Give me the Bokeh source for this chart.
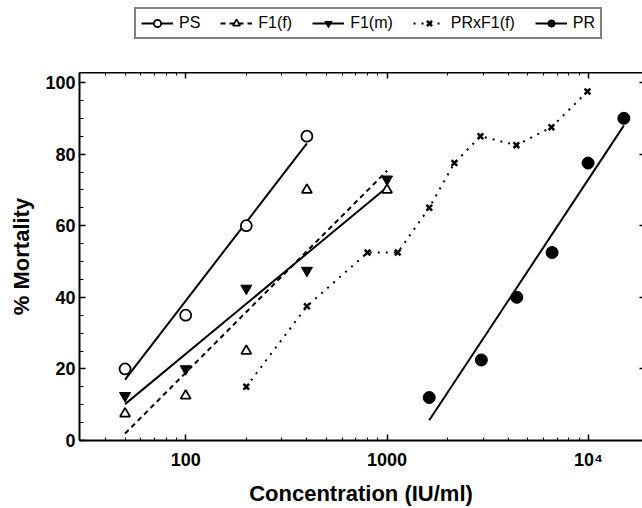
import numpy as np
from bokeh.plotting import figure
from bokeh.layouts import column
from bokeh.models import (Range1d, LinearAxis, LogAxis, FixedTicker, Legend,
                          LegendItem, CustomJSTickFormatter)
from bokeh.embed import file_html
from bokeh.resources import INLINE

# ---- data ----
ps_x = [50, 100, 200, 400]
ps_y = [20, 35, 60, 85]
f1f_x = [50, 100, 200, 400, 1000]
f1f_y = [7.5, 12.5, 25, 70, 70]
f1m_x = [50, 100, 200, 400, 1000]
f1m_y = [12.5, 20, 42.5, 47.5, 73]
prf_x = [200, 400, 800, 1130, 1620, 2160, 2910, 4390, 6550, 9890]
prf_y = [15, 37.5, 52.5, 52.5, 65, 77.5, 85, 82.5, 87.5, 97.5]
pr_x = [1620, 2940, 4410, 6600, 9960, 14990]
pr_y = [12, 22.5, 40, 52.5, 77.5, 90]

series_names = ["PS", "F1(f)", "F1(m)", "PRxF1(f)", "PR"]

x_ticks = [100, 1000, 10000]
x_tick_labels = ["100", "1000", "10\u2074"]
x_minor = [40, 50, 60, 70, 80, 90, 200, 300, 400, 500, 600, 700, 800, 900,
           2000, 3000, 4000, 5000, 6000, 7000, 8000, 9000]
y_ticks = [0, 20, 40, 60, 80, 100]
y_minor = [5, 10, 15, 25, 30, 35, 45, 50, 55, 65, 70, 75, 85, 90, 95]


def fit(xs, ys):
    """Least-squares line of y on log10(x), drawn over the data's x span."""
    b, a = np.polyfit(np.log10(xs), ys, 1)
    ends = np.array([min(xs), max(xs)], dtype=float)
    return ends, a + b * np.log10(ends)


FONT = "Liberation Sans"

# styles per series: (line kwargs, marker kwargs)
styles = [
    (dict(line_dash="solid"),
     dict(marker="circle", size=11, fill_color="white", line_width=1.8)),
    (dict(line_dash="5 4"),
     dict(marker="triangle", size=10, fill_color="white", line_width=1.8)),
    (dict(line_dash="solid"),
     dict(marker="inverted_triangle", size=11, fill_color="black", line_width=1)),
    (dict(line_dash="2 6"),
     dict(marker="x", size=8, line_width=2.5)),
    (dict(line_dash="solid"),
     dict(marker="circle", size=12, fill_color="black", line_width=1)),
]
all_xy = [(ps_x, ps_y), (f1f_x, f1f_y), (f1m_x, f1m_y), (prf_x, prf_y),
          (pr_x, pr_y)]

# ---------------- main plot ----------------
p = figure(width=642, height=436, x_axis_type="log",
           x_range=Range1d(29.7, 18560), y_range=Range1d(0, 102.8),
           output_backend="svg", toolbar_location=None,
           min_border_left=79, min_border_top=0, min_border_bottom=67,
           min_border_right=0)
p.grid.visible = False
p.outline_line_color = None

xa = p.xaxis[0]
xa.ticker = FixedTicker(ticks=x_ticks, minor_ticks=x_minor)
xa.formatter = CustomJSTickFormatter(
    args=dict(tv=x_ticks, tl=x_tick_labels),
    code="const i = tv.findIndex(t => Math.abs(t - tick) < 1e-6 * t);"
         " return i >= 0 ? tl[i] : '';")
ya = p.yaxis[0]
ya.ticker = FixedTicker(ticks=y_ticks, minor_ticks=y_minor)

for ax in (xa, ya):
    ax.axis_line_width = 2
    ax.major_tick_out = 0
    ax.major_tick_in = 6
    ax.minor_tick_out = 0
    ax.major_tick_line_width = 1.5
    ax.minor_tick_line_width = 1
    ax.major_label_text_font = FONT
    ax.major_label_text_font_style = "bold"
    ax.major_label_text_font_size = "18px"
    ax.major_label_text_color = "black"
    ax.axis_label_text_font = FONT
    ax.axis_label_text_font_style = "bold"
    ax.axis_label_text_font_size = "22px"
    ax.axis_label_text_color = "black"

xa.minor_tick_in = 3
xa.major_label_standoff = 9
xa.axis_label = "Concentration (IU/ml)"
xa.axis_label_standoff = 8
ya.minor_tick_in = 4
ya.major_label_standoff = 4
ya.axis_label = "% Mortality"
ya.axis_label_standoff = 8

top = LogAxis(ticker=FixedTicker(ticks=x_ticks, minor_ticks=x_minor),
              major_label_text_font_size="1px", major_label_text_alpha=0,
              major_label_standoff=0,
              axis_line_width=2, major_tick_in=6, major_tick_out=0,
              minor_tick_in=3, minor_tick_out=0, major_tick_line_width=1.5)
p.add_layout(top, "above")
right = LinearAxis(ticker=FixedTicker(ticks=[20, 40, 60, 80, 100], minor_ticks=[]),
                   major_label_text_font_size="1px", major_label_text_alpha=0,
                   major_label_standoff=0,
                   axis_line_color=None, major_tick_in=3, major_tick_out=0,
                   minor_tick_in=0, minor_tick_out=0, major_tick_line_width=1.5)
p.add_layout(right, "right")

# fitted lines (PS, F1(f), F1(m), PR) and connecting dotted line (PRxF1(f))
for i, ((xs, ys), (lk, _)) in enumerate(zip(all_xy, styles)):
    if i == 3:
        p.line(xs, ys, line_color="black", line_width=2, **lk)
    else:
        fx, fy = fit(xs, ys)
        p.line(fx, fy, line_color="black", line_width=2, **lk)

# markers
for (xs, ys), (_, mk) in zip(all_xy, styles):
    p.scatter(xs, ys, line_color="black", **mk)

# ---------------- legend strip ----------------
# (its renderers hold the series data, which lies outside this strip's ranges,
#  so only the legend itself is visible)
lg = figure(width=642, height=72, x_range=Range1d(0, 1), y_range=Range1d(0, 1),
            output_backend="svg", toolbar_location=None,
            x_axis_location=None, y_axis_location=None, min_border=0)
lg.grid.visible = False
lg.outline_line_color = None

items = []
for name, (xs, ys), (lk, mk) in zip(series_names, all_xy, styles):
    lr = lg.line(xs, ys, line_color="black", line_width=2, **lk)
    sr = lg.scatter(xs, ys, line_color="black", **mk)
    items.append(LegendItem(label=name, renderers=[lr, sr]))

legend = Legend(items=items, orientation="horizontal", location=(55, 33),
                margin=0, padding=5, spacing=20, glyph_width=32,
                glyph_height=18, label_height=18, label_standoff=6,
                label_text_font=FONT, label_text_font_size="16px",
                label_text_color="black",
                border_line_color="black", border_line_width=2,
                background_fill_color="white", background_fill_alpha=1)
lg.add_layout(legend)

layout = column(lg, p, spacing=0)
open("out.html", "w").write(file_html(layout, INLINE))
